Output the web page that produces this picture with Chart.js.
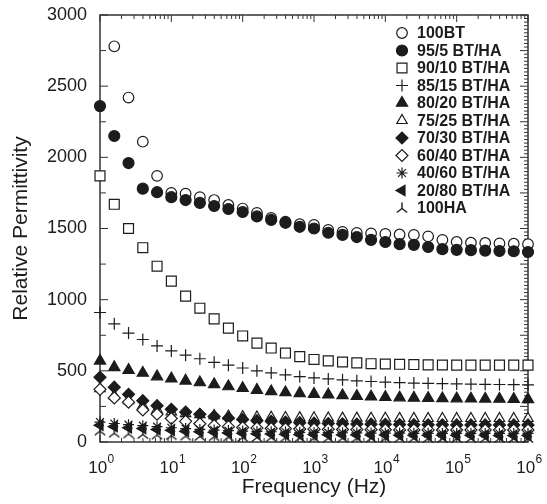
<!DOCTYPE html>
<html>
<head>
<meta charset="utf-8">
<script src="https://cdn.jsdelivr.net/npm/chart.js@4.4.1/dist/chart.umd.min.js"></script>
<style>
  html, body { margin: 0; padding: 0; background: #fff; }
</style>
</head>
<body>
<canvas id="chart" width="547" height="504"></canvas>
<script>
/* ---- Data (5 points per decade) ---- */
const freqHz = [1, 1.585, 2.512, 3.981, 6.31, 10, 15.85, 25.12, 39.81, 63.1,
  100, 158.5, 251.2, 398.1, 631, 1000, 1585, 2512, 3981, 6310,
  10000, 15850, 25120, 39810, 63100, 100000, 158500, 251200, 398100, 631000, 1000000];

const bt100   = [null, 2780, 2420, 2110, 1870, 1750, 1745, 1720, 1700, 1665, 1640, 1610, 1575, 1548, 1530, 1525, 1490, 1476, 1469, 1466, 1462, 1458, 1455, 1445, 1420, 1405, 1400, 1398, 1395, 1393, 1390];
const bt95    = [2360, 2150, 1960, 1780, 1755, 1720, 1700, 1680, 1658, 1637, 1616, 1585, 1560, 1540, 1512, 1500, 1470, 1455, 1440, 1420, 1405, 1390, 1385, 1370, 1355, 1350, 1348, 1345, 1342, 1340, 1335];
const bt90    = [1870, 1670, 1500, 1365, 1235, 1130, 1025, 940, 865, 800, 745, 695, 660, 625, 600, 580, 570, 562, 556, 550, 548, 546, 544, 542, 541, 540, 540, 540, 540, 540, 540];
const bt85    = [910, 830, 765, 720, 675, 640, 610, 585, 560, 540, 520, 500, 485, 472, 460, 450, 443, 437, 430, 425, 420, 417, 414, 412, 410, 408, 406, 405, 404, 403, 402];
const bt80    = [570, 525, 505, 485, 460, 445, 430, 418, 405, 390, 378, 365, 355, 348, 342, 337, 332, 327, 322, 318, 315, 312, 310, 308, 306, 305, 304, 303, 302, 301, 300];
const bt75    = [375, 325, 290, 255, 228, 212, 200, 192, 186, 182, 178, 176, 174, 172, 171, 170, 169, 168, 168, 167, 167, 166, 166, 165, 165, 165, 165, 165, 165, 165, 165];
const bt70    = [455, 385, 335, 290, 255, 230, 210, 195, 180, 168, 158, 150, 145, 140, 136, 133, 130, 128, 126, 125, 124, 123, 122, 121, 121, 120, 120, 120, 120, 120, 120];
const bt60    = [370, 310, 280, 225, 195, 165, 145, 128, 115, 108, 102, 98, 95, 93, 91, 90, 89, 88, 87, 86, 86, 85, 85, 85, 84, 84, 84, 84, 84, 84, 84];
const bt40    = [140, 130, 122, 115, 108, 100, 94, 88, 84, 80, 77, 74, 72, 70, 68, 67, 66, 65, 64, 63, 62, 62, 61, 61, 60, 60, 60, 60, 60, 60, 60];
const bt20    = [118, 108, 100, 94, 88, 82, 76, 72, 68, 64, 61, 58, 56, 54, 53, 52, 51, 50, 50, 49, 49, 48, 48, 48, 47, 47, 47, 47, 46, 46, 46];
const ha100   = [80, 65, 60, 56, 52, 48, 45, 42, 40, 38, 36, 35, 34, 33, 32, 31, 30, 30, 30, 30, 29, 29, 29, 28, 28, 28, 28, 28, 28, 28, 28];

const seriesLabels = ["100BT", "95/5 BT/HA", "90/10 BT/HA", "85/15 BT/HA", "80/20 BT/HA",
  "75/25 BT/HA", "70/30 BT/HA", "60/40 BT/HA", "40/60 BT/HA", "20/80 BT/HA", "100HA"];
const seriesValues = [bt100, bt95, bt90, bt85, bt80, bt75, bt70, bt60, bt40, bt20, ha100];

const xTickValues = [1, 10, 100, 1000, 10000, 100000, 1000000];
const xTickExponents = ["0", "1", "2", "3", "4", "5", "6"];
const yTickValues = [0, 500, 1000, 1500, 2000, 2500, 3000];

const ink = "#1c1c1c";
const fontFamily = "'Liberation Sans', Arial, Helvetica, sans-serif";

/* ---- Marker for 100HA (upside-down Y) ---- */
function makeTriMarker() {
  const c = document.createElement("canvas");
  c.width = 14; c.height = 14;
  const g = c.getContext("2d");
  g.strokeStyle = ink;
  g.lineWidth = 1.4;
  g.beginPath();
  g.moveTo(7, 7.5); g.lineTo(7, 1.5);
  g.moveTo(7, 7.5); g.lineTo(1.8, 11.5);
  g.moveTo(7, 7.5); g.lineTo(12.2, 11.5);
  g.stroke();
  return c;
}

/* ---- Marker styles per series ---- */
const markerStyles = [
  { style: "circle",   filled: false, r: 5.3 },
  { style: "circle",   filled: true,  r: 5.5 },
  { style: "rect",     filled: false, r: 7 },
  { style: "cross",    filled: false, r: 6 },
  { style: "triangle", filled: true,  r: 6.5 },
  { style: "triangle", filled: false, r: 6 },
  { style: "rectRot",  filled: true,  r: 6 },
  { style: "rectRot",  filled: false, r: 6 },
  { style: "star",     filled: false, r: 5.5 },
  { style: "triangle", filled: true,  r: 6, rot: -90 },
  { style: makeTriMarker(), filled: false, r: 6 }
];

const datasets = seriesLabels.map((label, i) => {
  const m = markerStyles[i];
  const pts = [];
  freqHz.forEach((f, k) => {
    if (seriesValues[i][k] != null) pts.push({ x: f, y: seriesValues[i][k] });
  });
  return {
    label: label,
    data: pts,
    showLine: false,
    pointStyle: m.style,
    pointRadius: m.r,
    pointHoverRadius: m.r,
    pointRotation: m.rot || 0,
    pointBackgroundColor: m.filled ? ink : "#ffffff",
    pointBorderColor: ink,
    pointBorderWidth: 1.2,
    clip: false,
    order: seriesLabels.length - i
  };
});

/* ---- Frame with inward ticks ---- */
const framePlugin = {
  id: "frame",
  beforeDatasetsDraw(chart) {
    const { ctx, chartArea: a } = chart;
    const xs = chart.scales.x, ys = chart.scales.y;
    ctx.save();
    ctx.strokeStyle = "#333";
    ctx.lineWidth = 1;
    ctx.beginPath();
    // left axis: major + minor
    yTickValues.forEach((v, i) => {
      const y = ys.getPixelForValue(v);
      ctx.moveTo(a.left, y); ctx.lineTo(a.left + 8, y);
      if (i < yTickValues.length - 1) {
        const ym = ys.getPixelForValue(v + 250);
        ctx.moveTo(a.left, ym); ctx.lineTo(a.left + 6, ym);
      }
    });
    // right axis: dense ticks
    for (let v = 0; v <= 3000; v += 25) {
      const y = ys.getPixelForValue(v);
      const len = v % 250 === 0 ? 8 : 4;
      ctx.moveTo(a.right, y); ctx.lineTo(a.right - len, y);
    }
    // top + bottom log ticks
    xTickValues.forEach((d, i) => {
      const x = xs.getPixelForValue(d);
      ctx.moveTo(x, a.bottom); ctx.lineTo(x, a.bottom - 7);
      ctx.moveTo(x, a.top); ctx.lineTo(x, a.top + 7);
      if (i < xTickValues.length - 1) {
        for (let k = 2; k <= 9; k++) {
          const xm = xs.getPixelForValue(d * k);
          ctx.moveTo(xm, a.bottom); ctx.lineTo(xm, a.bottom - 4);
          ctx.moveTo(xm, a.top); ctx.lineTo(xm, a.top + 4);
        }
      }
    });
    ctx.stroke();
    ctx.lineWidth = 1.5;
    ctx.strokeRect(a.left, a.top, a.right - a.left, a.bottom - a.top);
    ctx.restore();
  }
};

/* ---- Power-of-ten labels and legend ---- */
const labelPlugin = {
  id: "labels",
  afterDraw(chart) {
    const { ctx, chartArea: a } = chart;
    const xs = chart.scales.x;
    ctx.save();
    ctx.fillStyle = ink;
    ctx.textBaseline = "alphabetic";
    xTickValues.forEach((v, i) => {
      const x = xs.getPixelForValue(v);
      ctx.font = "17px " + fontFamily;
      const w1 = ctx.measureText("10").width;
      ctx.font = "12px " + fontFamily;
      const w2 = ctx.measureText(xTickExponents[i]).width;
      const x0 = x - (w1 + w2) / 2 + 1;
      ctx.font = "17px " + fontFamily;
      ctx.textAlign = "left";
      ctx.fillText("10", x0, a.bottom + 31);
      ctx.font = "12px " + fontFamily;
      ctx.fillText(xTickExponents[i], x0 + w1 + 0.5, a.bottom + 21);
    });

    // legend inside plot, top right
    const mx = a.right - 126, tx = a.right - 111;
    ctx.font = "bold 16px " + fontFamily;
    ctx.textBaseline = "middle";
    chart.data.datasets.forEach((ds, i) => {
      const y = a.top + 18 + i * 17.5;
      ctx.fillStyle = ds.pointBackgroundColor;
      ctx.strokeStyle = ds.pointBorderColor;
      ctx.lineWidth = ds.pointBorderWidth;
      Chart.helpers.drawPoint(ctx, {
        pointStyle: ds.pointStyle,
        radius: ds.pointRadius,
        rotation: ds.pointRotation,
        borderWidth: ds.pointBorderWidth
      }, mx, y);
      ctx.fillStyle = ink;
      ctx.fillText(ds.label, tx, y + 1);
    });
    ctx.restore();
  }
};

new Chart(document.getElementById("chart"), {
  type: "scatter",
  data: { datasets: datasets },
  options: {
    responsive: false,
    animation: false,
    events: [],
    devicePixelRatio: 1,
    layout: { padding: { top: 15, right: 19, left: 0, bottom: 0 } },
    plugins: { legend: { display: false }, tooltip: { enabled: false } },
    scales: {
      x: {
        type: "logarithmic",
        min: 1,
        max: 1000000,
        grid: { display: false, drawTicks: false },
        border: { display: false },
        ticks: { display: false },
        afterFit: s => { s.height = 62; s.paddingLeft = 0; s.paddingRight = 0; },
        title: {
          display: true,
          text: "Frequency (Hz)",
          color: ink,
          font: { family: fontFamily, size: 21 },
          padding: { top: 0, bottom: 4 }
        }
      },
      y: {
        min: 0,
        max: 3000,
        grid: { display: false, drawTicks: false },
        border: { display: false },
        afterBuildTicks: s => { s.ticks = yTickValues.map(v => ({ value: v })); },
        ticks: {
          color: ink,
          padding: 13,
          font: { family: fontFamily, size: 18 },
          callback: v => String(v)
        },
        afterFit: s => { s.width = 100; s.paddingTop = 0; s.paddingBottom = 0; },
        title: {
          display: true,
          text: "Relative Permittivity",
          color: ink,
          font: { family: fontFamily, size: 21 },
          padding: { top: 9, bottom: 0 }
        }
      }
    }
  },
  plugins: [framePlugin, labelPlugin]
});
</script>
</body>
</html>
